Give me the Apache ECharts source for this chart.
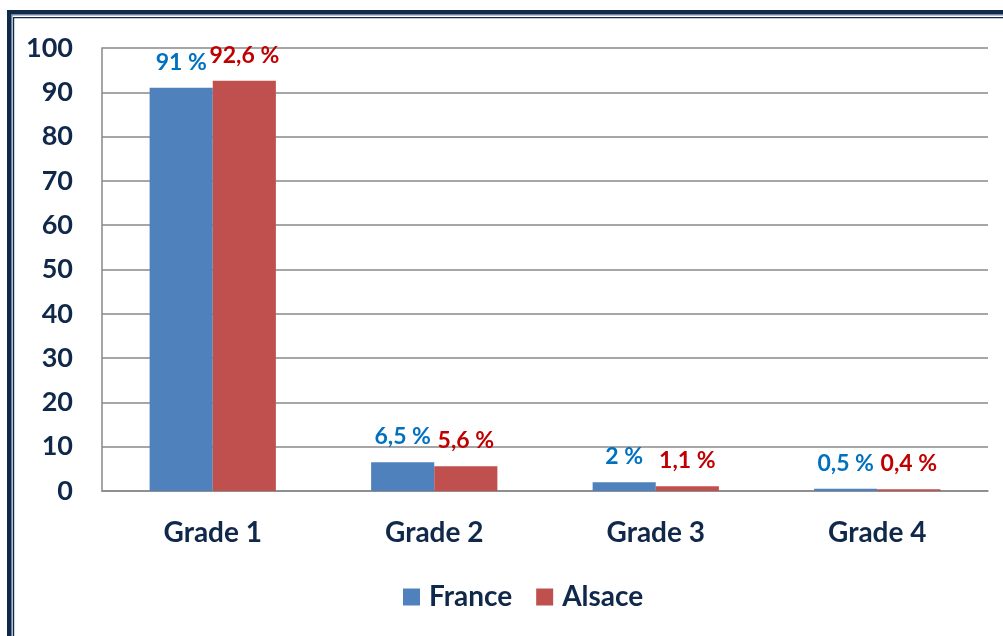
<!DOCTYPE html>
<html>
<head>
<meta charset="utf-8">
<script src="https://cdn.jsdelivr.net/npm/echarts@6/dist/echarts.min.js"></script>
<style>
  html, body { margin: 0; padding: 0; background: #fff; }
  #chart { width: 1003px; height: 636px; }
</style>
</head>
<body>
<div id="chart"></div>
<script>
const categories = ['Grade 1', 'Grade 2', 'Grade 3', 'Grade 4']
const franceValues = [91, 6.5, 2, 0.5]
const alsaceValues = [92.6, 5.6, 1.1, 0.4]
const yTicks = { min: 0, max: 100, interval: 10 }

const navy = '#10284a'
const fmt = (p) => String(p.value).replace('.', ',') + ' %'

const chart = echarts.init(document.getElementById('chart'))

chart.setOption({
  animation: false,
  textStyle: { fontFamily: 'Lato, "Open Sans", sans-serif' },
  // cadre du graphique
  graphic: [
    { type: 'rect', shape: { x: 7, y: 10, width: 1000, height: 4 }, style: { fill: navy } },
    { type: 'rect', shape: { x: 7, y: 10, width: 4, height: 630 }, style: { fill: navy } },
    { type: 'rect', shape: { x: 11, y: 14, width: 1000, height: 1.5 }, style: { fill: '#6f8299' } },
    { type: 'rect', shape: { x: 11, y: 14, width: 1.5, height: 630 }, style: { fill: '#6f8299' } },
    { type: 'rect', shape: { x: 13, y: 17, width: 1000, height: 1.2 }, style: { fill: navy } },
    { type: 'rect', shape: { x: 13, y: 17, width: 1.2, height: 630 }, style: { fill: navy } }
  ],
  grid: { left: 102, right: 15, top: 48, bottom: 145, containLabel: false },
  legend: {
    bottom: 20,
    left: 398,
    icon: 'rect',
    itemWidth: 17,
    itemHeight: 17,
    itemGap: 24,
    textStyle: { fontSize: 28, color: navy, fontWeight: 'bold', padding: [0, 0, 0, 4] },
    data: ['France', 'Alsace']
  },
  xAxis: {
    type: 'category',
    data: categories,
    axisLine: { lineStyle: { color: '#888', width: 1.5 } },
    axisTick: { show: false },
    axisLabel: { fontSize: 28, color: navy, fontWeight: 'bold', margin: 28 }
  },
  yAxis: {
    type: 'value',
    min: yTicks.min,
    max: yTicks.max,
    interval: yTicks.interval,
    axisLine: { show: true, lineStyle: { color: '#888', width: 1.5 } },
    axisTick: { show: false },
    splitLine: { lineStyle: { color: '#888', width: 1.5 } },
    axisLabel: { fontSize: 27, color: navy, fontWeight: 'bold', margin: 29 }
  },
  series: [
    {
      name: 'France',
      type: 'bar',
      data: franceValues,
      barGap: '0%',
      barCategoryGap: '43%',
      itemStyle: { color: '#4f81bd' },
      label: {
        show: true,
        position: 'top',
        distance: 14,
        formatter: fmt,
        fontSize: 23,
        fontWeight: 'bold',
        color: '#0070c0'
      }
    },
    {
      name: 'Alsace',
      type: 'bar',
      data: alsaceValues,
      barGap: '0%',
      barCategoryGap: '43%',
      itemStyle: { color: '#c0504d' },
      label: {
        show: true,
        position: 'top',
        distance: 14,
        formatter: fmt,
        fontSize: 23,
        fontWeight: 'bold',
        color: '#c00000'
      }
    }
  ]
})
</script>
</body>
</html>
